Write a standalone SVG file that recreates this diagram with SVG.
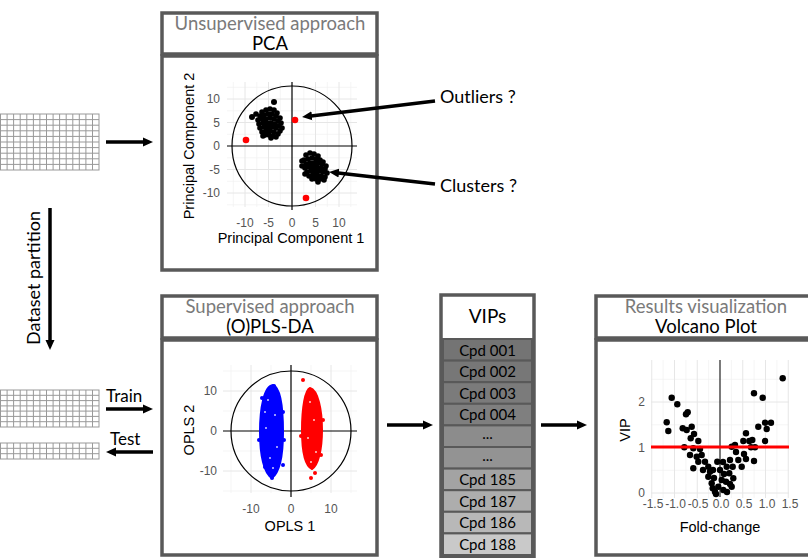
<svg xmlns="http://www.w3.org/2000/svg" width="808" height="558" viewBox="0 0 808 558">
<style>
.box{fill:#fff;stroke:#595959;stroke-width:3.5}
.ttl{font-family:Lato,"Open Sans",sans-serif;font-size:18.5px;text-anchor:middle}
.g1{fill:#7a7a7a}
.g2{fill:#000}
.lbl{font-family:Lato,"Open Sans",sans-serif;font-size:18px;fill:#000}
.tick{font-family:"Liberation Sans",Arial,sans-serif;font-size:12px;fill:#555}
.axt{font-family:"Liberation Sans",Arial,sans-serif;font-size:14.5px;fill:#000;text-anchor:middle}
.gmaj{stroke:#e6e6e6;stroke-width:1;fill:none}
.gmin{stroke:#f1f1f1;stroke-width:0.7;fill:none}
.ax{stroke:#000;stroke-width:1.2;fill:none}
.tbl{stroke:#999;stroke-width:1;fill:none}
.conn{stroke:#000;stroke-width:3.5;fill:none;marker-end:url(#ah)}
.row{stroke:#595959;stroke-width:2}
.cpd{font-family:Lato,"Open Sans",sans-serif;font-size:15px;fill:#000;text-anchor:middle}
.k circle{fill:#000}
</style>
<defs>
<marker id="ah" viewBox="0 0 10 10" markerWidth="10" markerHeight="10" refX="3" refY="5" orient="auto" markerUnits="userSpaceOnUse">
<path d="M0,0.5 L10,5 L0,9.5 z" fill="#000"/>
</marker>
</defs>
<rect width="808" height="558" fill="#fff"/>

<!-- data tables -->
<g id="dataset">
<rect x="0.5" y="114" width="98.5" height="56" class="tbl"/>
<path class="tbl" d="M7.1 114V170M13.6 114V170M20.2 114V170M26.8 114V170M33.4 114V170M39.9 114V170M46.5 114V170M53.1 114V170M59.6 114V170M66.2 114V170M72.8 114V170M79.3 114V170M85.9 114V170M92.5 114V170M0 119.6H99M0 125.2H99M0 130.8H99M0 136.4H99M0 142H99M0 147.6H99M0 153.2H99M0 158.8H99M0 164.4H99"/>
</g>
<g id="train-set">
<rect x="0.5" y="390" width="98.5" height="37" class="tbl"/>
<path class="tbl" d="M7.1 390V427M13.6 390V427M20.2 390V427M26.8 390V427M33.4 390V427M39.9 390V427M46.5 390V427M53.1 390V427M59.6 390V427M66.2 390V427M72.8 390V427M79.3 390V427M85.9 390V427M92.5 390V427M0 395.3H99M0 400.6H99M0 405.9H99M0 411.1H99M0 416.4H99M0 421.7H99"/>
</g>
<g id="test-set">
<rect x="0.5" y="443" width="98.5" height="16" class="tbl"/>
<path class="tbl" d="M7.1 443V459M13.6 443V459M20.2 443V459M26.8 443V459M33.4 443V459M39.9 443V459M46.5 443V459M53.1 443V459M59.6 443V459M66.2 443V459M72.8 443V459M79.3 443V459M85.9 443V459M92.5 443V459M0 448.3H99M0 453.7H99"/>
</g>

<!-- PCA -->
<g id="pca">
<rect x="162" y="13" width="215" height="41" class="box"/>
<rect x="162" y="56" width="215" height="214" class="box"/>
<text x="270" y="30" class="ttl g1">Unsupervised approach</text>
<text x="270" y="50" class="ttl g2">PCA</text>
<path class="gmin" d="M233.25 82V207M256.75 82V207M280.25 82V207M303.75 82V207M327.25 82V207M350.75 82V207M227 87.25H357M227 110.75H357M227 134.25H357M227 157.75H357M227 181.25H357M227 204.75H357"/>
<path class="gmaj" d="M245 82V207M268.5 82V207M315.5 82V207M339 82V207M227 99H357M227 122.5H357M227 169.5H357M227 193H357"/>
<path class="ax" d="M292 82V210M227 146H357"/>
<circle cx="292" cy="146" r="60" class="ax"/>
<g class="k">
<circle cx="262" cy="112" r="2.8"/><circle cx="266" cy="110" r="2.8"/><circle cx="270" cy="109" r="2.8"/><circle cx="274" cy="110" r="2.8"/><circle cx="277" cy="113" r="2.8"/><circle cx="260" cy="116" r="2.8"/><circle cx="264" cy="115" r="2.8"/><circle cx="268" cy="114" r="2.8"/><circle cx="272" cy="114" r="2.8"/><circle cx="276" cy="116" r="2.8"/><circle cx="280" cy="118" r="2.8"/><circle cx="258" cy="120" r="2.8"/><circle cx="262" cy="119" r="2.8"/><circle cx="266" cy="119" r="2.8"/><circle cx="270" cy="118" r="2.8"/><circle cx="274" cy="119" r="2.8"/><circle cx="278" cy="121" r="2.8"/><circle cx="281" cy="123" r="2.8"/><circle cx="259" cy="124" r="2.8"/><circle cx="263" cy="123" r="2.8"/><circle cx="267" cy="123" r="2.8"/><circle cx="271" cy="123" r="2.8"/><circle cx="275" cy="124" r="2.8"/><circle cx="279" cy="126" r="2.8"/><circle cx="282" cy="128" r="2.8"/><circle cx="260" cy="128" r="2.8"/><circle cx="264" cy="127" r="2.8"/><circle cx="268" cy="127" r="2.8"/><circle cx="272" cy="127" r="2.8"/><circle cx="276" cy="128" r="2.8"/><circle cx="280" cy="131" r="2.8"/><circle cx="262" cy="132" r="2.8"/><circle cx="266" cy="131" r="2.8"/><circle cx="270" cy="131" r="2.8"/><circle cx="274" cy="132" r="2.8"/><circle cx="278" cy="134" r="2.8"/><circle cx="265" cy="135" r="2.8"/><circle cx="269" cy="135" r="2.8"/><circle cx="273" cy="136" r="2.8"/><circle cx="271" cy="138" r="2.8"/><circle cx="263" cy="136" r="2.8"/><circle cx="276" cy="137" r="2.8"/><circle cx="274" cy="102" r="3"/><circle cx="252" cy="117" r="3"/><circle cx="256" cy="114" r="2.8"/>
<circle cx="306" cy="155" r="2.8"/><circle cx="310" cy="153" r="2.8"/><circle cx="314" cy="154" r="2.8"/><circle cx="318" cy="156" r="2.8"/><circle cx="304" cy="160" r="2.8"/><circle cx="308" cy="159" r="2.8"/><circle cx="312" cy="158" r="2.8"/><circle cx="316" cy="159" r="2.8"/><circle cx="320" cy="160" r="2.8"/><circle cx="323" cy="162" r="2.8"/><circle cx="306" cy="164" r="2.8"/><circle cx="310" cy="163" r="2.8"/><circle cx="314" cy="163" r="2.8"/><circle cx="318" cy="163" r="2.8"/><circle cx="322" cy="164" r="2.8"/><circle cx="326" cy="166" r="2.8"/><circle cx="305" cy="168" r="2.8"/><circle cx="309" cy="167" r="2.8"/><circle cx="313" cy="167" r="2.8"/><circle cx="317" cy="167" r="2.8"/><circle cx="321" cy="168" r="2.8"/><circle cx="325" cy="169" r="2.8"/><circle cx="307" cy="172" r="2.8"/><circle cx="311" cy="171" r="2.8"/><circle cx="315" cy="171" r="2.8"/><circle cx="319" cy="171" r="2.8"/><circle cx="323" cy="172" r="2.8"/><circle cx="327" cy="173" r="2.8"/><circle cx="309" cy="176" r="2.8"/><circle cx="313" cy="175" r="2.8"/><circle cx="317" cy="175" r="2.8"/><circle cx="321" cy="176" r="2.8"/><circle cx="325" cy="177" r="2.8"/><circle cx="312" cy="179" r="2.8"/><circle cx="316" cy="179" r="2.8"/><circle cx="320" cy="179" r="2.8"/><circle cx="324" cy="180" r="2.8"/><circle cx="318" cy="182" r="2.8"/><circle cx="302" cy="161" r="2.8"/><circle cx="302" cy="166" r="2.8"/><circle cx="305" cy="174" r="2.8"/>
</g>
<g fill="#f00"><circle cx="295" cy="120" r="3.3"/><circle cx="246" cy="140" r="3.3"/><circle cx="306" cy="198" r="3.3"/></g>
<g class="tick" text-anchor="end"><text x="220" y="103">10</text><text x="220" y="127">5</text><text x="220" y="150">0</text><text x="220" y="174">-5</text><text x="220" y="197">-10</text></g>
<g class="tick" text-anchor="middle"><text x="245" y="227">-10</text><text x="268.5" y="227">-5</text><text x="292" y="227">0</text><text x="315.5" y="227">5</text><text x="339" y="227">10</text></g>
<text x="291" y="243" class="axt">Principal Component 1</text>
<text transform="translate(194,146) rotate(-90)" class="axt">Principal Component 2</text>
</g>

<!-- OPLS-DA -->
<g id="oplsda">
<rect x="162" y="296" width="215" height="42" class="box"/>
<rect x="162" y="340" width="215" height="215" class="box"/>
<text x="270" y="313" class="ttl g1">Supervised approach</text>
<text x="270" y="333" class="ttl g2">(O)PLS-DA</text>
<path class="gmin" d="M231 365V493M271 365V493M311 365V493M351 365V493M223 371H357M223 411H357M223 451H357M223 491H357"/>
<path class="gmaj" d="M251 365V493M331 365V493M223 391H357M223 471H357"/>
<path class="ax" d="M291 365V497M223 431H357"/>
<circle cx="291" cy="431" r="60" class="ax"/>
<g fill="#0000ff">
<path d="M273 385 C281 388 283 410 283 432 C283 455 280 472 272 478 C264 474 260 455 260 432 C260 408 264 386 273 385 Z" stroke="#0000ff" stroke-width="2"/>
<circle cx="274" cy="386" r="2"/><circle cx="262" cy="398" r="2"/><circle cx="284" cy="440" r="2"/><circle cx="283" cy="465" r="2"/><circle cx="265" cy="467" r="2"/><circle cx="272" cy="478" r="2"/><circle cx="259" cy="440" r="2"/><circle cx="283" cy="412" r="2"/>
</g>
<g fill="#fff" opacity="0.8"><circle cx="268" cy="400" r="1"/><circle cx="275" cy="415" r="1"/><circle cx="266" cy="428" r="1"/><circle cx="277" cy="447" r="1"/><circle cx="270" cy="458" r="1"/><circle cx="273" cy="468" r="1"/><circle cx="265" cy="412" r="1"/></g>
<g fill="#ff0000">
<path d="M310 388 C318 390 322 410 322 430 C322 450 318 466 312 469 C305 466 302 450 302 430 C302 408 305 390 310 388 Z" stroke="#ff0000" stroke-width="2"/>
<circle cx="303" cy="380" r="2"/><circle cx="311" cy="478" r="2"/><circle cx="315" cy="473" r="2"/><circle cx="323" cy="420" r="2"/><circle cx="301" cy="436" r="2"/><circle cx="321" cy="455" r="2"/>
</g>
<g fill="#fff" opacity="0.8"><circle cx="310" cy="402" r="1"/><circle cx="314" cy="420" r="1"/><circle cx="308" cy="438" r="1"/><circle cx="316" cy="452" r="1"/><circle cx="311" cy="462" r="1"/></g>
<g class="tick" text-anchor="end"><text x="217" y="395">10</text><text x="217" y="435">0</text><text x="217" y="475">-10</text></g>
<g class="tick" text-anchor="middle"><text x="251" y="513">-10</text><text x="291" y="513">0</text><text x="331" y="513">10</text></g>
<text x="290" y="531" class="axt">OPLS 1</text>
<text transform="translate(194,430) rotate(-90)" class="axt">OPLS 2</text>
</g>

<!-- VIPs -->
<g id="vips">
<rect x="441" y="295" width="93" height="262" class="box"/>
<rect x="443" y="339" width="89" height="21.6" class="row" fill="#747474"/>
<rect x="443" y="360.6" width="89" height="21.6" class="row" fill="#777777"/>
<rect x="443" y="382.2" width="89" height="21.6" class="row" fill="#7b7b7b"/>
<rect x="443" y="403.8" width="89" height="21.6" class="row" fill="#7f7f7f"/>
<rect x="443" y="425.4" width="89" height="21.6" class="row" fill="#8c8c8c"/>
<rect x="443" y="447" width="89" height="21.6" class="row" fill="#939393"/>
<rect x="443" y="468.6" width="89" height="21.6" class="row" fill="#a3a3a3"/>
<rect x="443" y="490.2" width="89" height="21.6" class="row" fill="#adadad"/>
<rect x="443" y="511.8" width="89" height="21.6" class="row" fill="#b8b8b8"/>
<rect x="443" y="533.4" width="89" height="21.6" class="row" fill="#c9c9c9"/>
<text x="487.5" y="323" class="ttl g2" style="font-size:19px">VIPs</text>
<text x="487.5" y="355.5" class="cpd">Cpd 001</text>
<text x="487.5" y="377.1" class="cpd">Cpd 002</text>
<text x="487.5" y="398.7" class="cpd">Cpd 003</text>
<text x="487.5" y="420.3" class="cpd">Cpd 004</text>
<text x="487.5" y="439.4" class="cpd" fill="#555">...</text>
<text x="487.5" y="461" class="cpd" fill="#555">...</text>
<text x="487.5" y="485.1" class="cpd">Cpd 185</text>
<text x="487.5" y="506.7" class="cpd">Cpd 187</text>
<text x="487.5" y="528.3" class="cpd">Cpd 186</text>
<text x="487.5" y="549.9" class="cpd">Cpd 188</text>
</g>

<!-- Volcano -->
<g id="volcano">
<rect x="596" y="296" width="230" height="42" class="box"/>
<rect x="596" y="340" width="230" height="215" class="box"/>
<text x="706" y="313" class="ttl g1">Results visualization</text>
<text x="706" y="333" class="ttl g2">Volcano Plot</text>
<path class="gmin" d="M663.1 360V498M685.9 360V498M708.6 360V498M731.4 360V498M754.1 360V498M776.9 360V498M651 470.25H789M651 424.75H789M651 379.25H789"/>
<path class="gmaj" d="M651.75 360V498M674.5 360V498M697.25 360V498M742.75 360V498M765.5 360V498M788.25 360V498M651 493H789M651 447.5H789M651 402H789"/>
<path d="M720 360V497" stroke="#333" stroke-width="1.3"/>
<g class="k">
<circle cx="671.7" cy="397.7" r="3.2"/><circle cx="677.3" cy="404.3" r="3.2"/><circle cx="666.7" cy="422.3" r="3.2"/><circle cx="668.3" cy="431" r="3.2"/><circle cx="686" cy="414.3" r="3.2"/><circle cx="687.7" cy="412.3" r="3.2"/><circle cx="682.7" cy="428.3" r="3.2"/><circle cx="686.7" cy="430" r="3.2"/><circle cx="691.7" cy="426.7" r="3.2"/><circle cx="690.7" cy="438.3" r="3.2"/><circle cx="698.3" cy="441" r="3.2"/><circle cx="684.3" cy="447.3" r="3.2"/><circle cx="693.3" cy="448.3" r="3.2"/><circle cx="690" cy="455" r="3.2"/><circle cx="696.7" cy="456.7" r="3.2"/><circle cx="701.7" cy="455" r="3.2"/><circle cx="693.3" cy="468.3" r="3.2"/><circle cx="698.3" cy="461.7" r="3.2"/><circle cx="705" cy="461.7" r="3.2"/><circle cx="708.3" cy="466.7" r="3.2"/><circle cx="710" cy="471.7" r="3.2"/><circle cx="708.3" cy="476.7" r="3.2"/><circle cx="711.7" cy="483.3" r="3.2"/><circle cx="712.7" cy="488.3" r="3.2"/><circle cx="715" cy="491.7" r="3.2"/><circle cx="718.3" cy="486.7" r="3.2"/><circle cx="717.3" cy="461.7" r="3.2"/><circle cx="720" cy="470" r="3.2"/><circle cx="721.7" cy="480" r="3.2"/><circle cx="723.3" cy="490" r="3.2"/><circle cx="726" cy="481.7" r="3.2"/><circle cx="726.7" cy="466.7" r="3.2"/><circle cx="729.3" cy="473.3" r="3.2"/><circle cx="730" cy="460" r="3.2"/><circle cx="731.7" cy="446.7" r="3.2"/><circle cx="735" cy="445" r="3.2"/><circle cx="732.7" cy="466.7" r="3.2"/><circle cx="733.3" cy="478.3" r="3.2"/><circle cx="731.7" cy="486.7" r="3.2"/><circle cx="738.3" cy="460" r="3.2"/><circle cx="741.7" cy="466.7" r="3.2"/><circle cx="746" cy="459" r="3.2"/><circle cx="743.3" cy="441" r="3.2"/><circle cx="746" cy="433.3" r="3.2"/><circle cx="749.3" cy="441" r="3.2"/><circle cx="752.3" cy="440" r="3.2"/><circle cx="751" cy="447.3" r="3.2"/><circle cx="755" cy="447.3" r="3.2"/><circle cx="754" cy="461" r="3.2"/><circle cx="754" cy="393.3" r="3.2"/><circle cx="762.7" cy="397.7" r="3.2"/><circle cx="758.3" cy="426.7" r="3.2"/><circle cx="765" cy="422.7" r="3.2"/><circle cx="766.7" cy="429" r="3.2"/><circle cx="771" cy="422.7" r="3.2"/><circle cx="765" cy="441" r="3.2"/><circle cx="782.7" cy="378.3" r="3.2"/>
<circle cx="703" cy="470" r="3.2"/><circle cx="714" cy="478" r="3.2"/><circle cx="724" cy="474" r="3.2"/><circle cx="716" cy="494" r="3.2"/><circle cx="727" cy="492" r="3.2"/><circle cx="736" cy="452" r="3.2"/><circle cx="744" cy="454" r="3.2"/><circle cx="700" cy="449" r="3.2"/><circle cx="694" cy="434" r="3.2"/><circle cx="723" cy="462" r="3.2"/><circle cx="713" cy="470" r="3.2"/><circle cx="730" cy="484" r="3.2"/>
</g>
<path d="M651 447H789" stroke="#f00" stroke-width="3"/>
<g class="tick" text-anchor="end"><text x="645" y="497">0</text><text x="645" y="451.5">1</text><text x="645" y="406">2</text></g>
<g class="tick" text-anchor="middle"><text x="653" y="508">-1.5</text><text x="675.5" y="508">-1.0</text><text x="698" y="508">-0.5</text><text x="721" y="508">0.0</text><text x="744" y="508">0.5</text><text x="767" y="508">1.0</text><text x="790" y="508">1.5</text></g>
<text x="720" y="532" class="axt">Fold-change</text>
<text transform="translate(630,430) rotate(-90)" class="axt">VIP</text>
</g>

<!-- labels -->
<g id="outliers-label"><text x="440" y="103" class="lbl">Outliers ?</text></g>
<g id="clusters-label"><text x="440" y="192" class="lbl">Clusters ?</text></g>
<g id="partition-label"><text transform="translate(40,278) rotate(-90)" class="lbl" text-anchor="middle">Dataset partition</text></g>
<g id="train-label"><text x="106" y="402" class="lbl" style="font-size:17px">Train</text></g>
<g id="test-label"><text x="110" y="445" class="lbl" style="font-size:17px">Test</text></g>

<!-- connectors -->
<g id="connectors">
<path class="conn" d="M106 142H146"/>
<path class="conn" d="M50 208V343"/>
<path class="conn" d="M106 409H146"/>
<path class="conn" d="M153 452H113"/>
<path class="conn" d="M387 425H426"/>
<path class="conn" d="M541 425H580"/>
<path class="conn" d="M435 101L309 116.2"/>
<path class="conn" d="M435 184L336 172.8"/>
</g>
</svg>
